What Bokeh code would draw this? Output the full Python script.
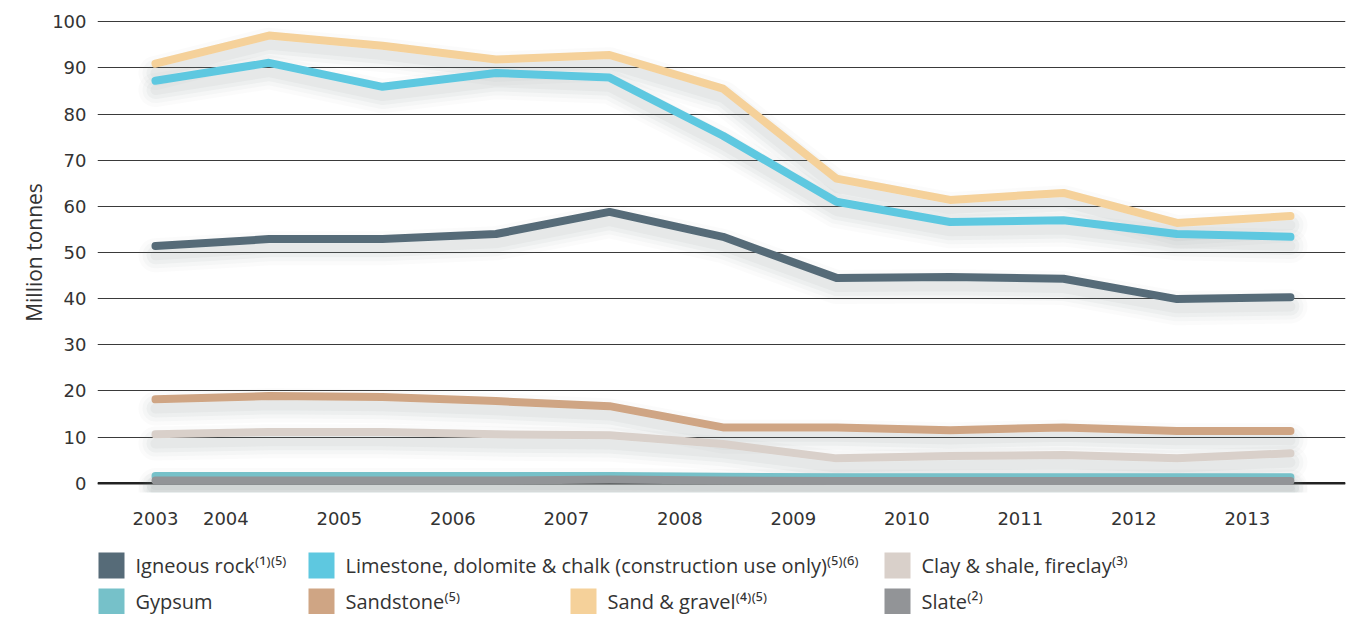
from bokeh.plotting import figure
from bokeh.models import Range1d, FixedTicker, Span
from bokeh.layouts import column
from bokeh.embed import file_html
from bokeh.resources import INLINE
from bokeh.core.properties import value

# ---------------- data ----------------
years = [2003, 2004, 2005, 2006, 2007, 2008, 2009, 2010, 2011, 2012, 2013]

igneous_rock = [51.4, 52.9, 52.9, 54.0, 58.8, 53.4, 44.5, 44.7, 44.3, 39.9, 40.3]
limestone = [87.2, 91.1, 85.9, 88.9, 87.9, 75.3, 61.0, 56.6, 57.0, 54.0, 53.4]
clay_shale = [10.6, 11.1, 11.1, 10.6, 10.4, 8.5, 5.4, 5.9, 6.1, 5.4, 6.5]
gypsum = [1.6, 1.6, 1.6, 1.6, 1.6, 1.4, 1.3, 1.3, 1.3, 1.3, 1.3]
sandstone = [18.2, 18.9, 18.7, 17.8, 16.7, 12.1, 12.1, 11.5, 12.1, 11.3, 11.3]
sand_gravel = [90.9, 97.0, 94.8, 91.8, 92.8, 85.5, 66.0, 61.4, 62.9, 56.4, 57.9]
slate = [0.6, 0.6, 0.6, 0.6, 0.8, 0.6, 0.5, 0.5, 0.5, 0.5, 0.5]

legend_labels = [
    "Igneous rock\u207d\u00b9\u207e\u207d\u2075\u207e",
    "Limestone, dolomite & chalk (construction use only)\u207d\u2075\u207e\u207d\u2076\u207e",
    "Clay & shale, fireclay\u207d\u00b3\u207e",
    "Gypsum",
    "Sandstone\u207d\u2075\u207e",
    "Sand & gravel\u207d\u2074\u207e\u207d\u2075\u207e",
    "Slate\u207d\u00b2\u207e",
]
series = [igneous_rock, limestone, clay_shale, gypsum, sandstone, sand_gravel, slate]
colors = ["#566b78", "#5ec8e0", "#d9d0ca", "#76c1c9", "#cfa584", "#f5d19a", "#929497"]
draw_order = [2, 4, 0, 1, 5, 3, 6]

y_ticks = [0, 10, 20, 30, 40, 50, 60, 70, 80, 90, 100]
year_labels = [str(y) for y in years]

# ---------------- main chart ----------------
W = 1352
FL, FR = 97, 1345          # frame left / right (px)
p = figure(width=W, height=545, output_backend="svg", toolbar_location=None,
           x_range=Range1d(2002.489, 2013.485), y_range=Range1d(-2, 102),
           min_border_left=FL, min_border_right=W - FR, min_border_top=12,
           min_border_bottom=53)
p.outline_line_color = None
p.background_fill_color = "white"
p.border_fill_color = "white"
p.xgrid.visible = False
p.ygrid.ticker = FixedTicker(ticks=y_ticks)
p.ygrid.grid_line_color = "#3a3a3a"
p.ygrid.grid_line_width = 1

# y axis
p.yaxis.ticker = FixedTicker(ticks=y_ticks)
p.yaxis.axis_line_color = None
p.yaxis.major_tick_line_color = None
p.yaxis.minor_tick_line_color = None
p.yaxis.major_label_text_font = "DejaVu Sans"
p.yaxis.major_label_text_font_size = "18px"
p.yaxis.major_label_text_color = "#333333"
p.yaxis.major_label_standoff = 5
p.yaxis.axis_label = "Million tonnes"
p.yaxis.axis_label_text_font = "Open Sans"
p.yaxis.axis_label_text_font_style = "normal"
p.yaxis.axis_label_text_font_size = "21px"
p.yaxis.axis_label_text_color = "#333333"
p.yaxis.axis_label_standoff = 1

# x axis: labels shifted left of data points (as in the original)
tick_pos = [years[0]] + [y - 0.38 for y in years[1:]]
p.xaxis.ticker = FixedTicker(ticks=tick_pos)
p.xaxis.major_label_overrides = {tp: lab for tp, lab in zip(tick_pos, year_labels)}
p.xaxis.axis_line_color = None
p.xaxis.major_tick_line_color = None
p.xaxis.minor_tick_line_color = None
p.xaxis.major_label_text_font = "DejaVu Sans"
p.xaxis.major_label_text_font_size = "18px"
p.xaxis.major_label_text_color = "#333333"
p.xaxis.major_label_standoff = 13

# zero line
p.add_layout(Span(location=0, dimension="width", line_color="#222222",
                  line_width=2.5, level="underlay"))

# soft drop shadows (same data, on a slightly shifted range)
p.extra_y_ranges = {"shadow": Range1d(0.0, 104.0)}
for i in draw_order:
    for w, a in [(34, 0.03), (26, 0.045), (18, 0.06), (10, 0.06)]:
        p.line(years, series[i], y_range_name="shadow", line_width=w,
               line_color="#7a828c", line_alpha=a,
               line_cap="round", line_join="round")

for i in draw_order:
    p.line(years, series[i], line_width=8, line_color=colors[i],
           line_cap="round", line_join="round")

# ---------------- legend ----------------
# frames of the column are aligned, so the legend frame spans FL..FR too;
# a range of FL..FR makes legend coordinates equal page pixels.
LH = 69
lg = figure(width=W, height=LH, output_backend="svg", toolbar_location=None,
            x_range=Range1d(FL, FR), y_range=Range1d(LH, 0),
            x_axis_location=None, y_axis_location=None,
            min_border_left=FL, min_border_right=W - FR, min_border_top=0,
            min_border_bottom=0)
lg.outline_line_color = None
lg.xgrid.visible = False
lg.ygrid.visible = False

sw_left = [98, 308, 884, 98, 308, 570, 884]
sw_mid = [20, 20, 20, 56, 56, 56, 56]
sw = 26
lg.rect(x=[x + sw / 2 for x in sw_left], y=sw_mid, width=sw, height=sw,
        fill_color=colors, line_color=None)
lg.text(x=[x + sw + 11 for x in sw_left], y=sw_mid, text=legend_labels,
        text_baseline="middle", text_align="left",
        text_font=value("Open Sans"), text_font_size="20px",
        text_color="#333333")

layout = column(p, lg, spacing=0)
open("out.html", "w").write(file_html(layout, INLINE))
